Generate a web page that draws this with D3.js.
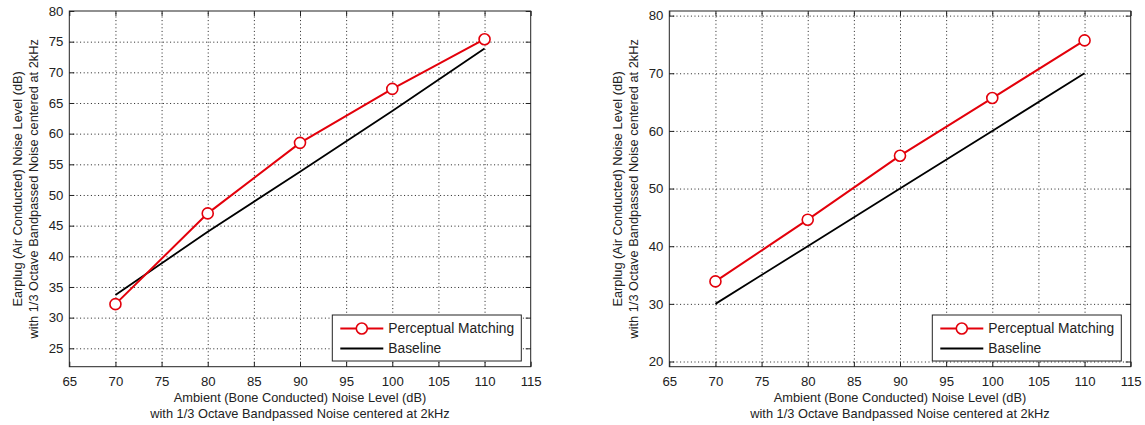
<!DOCTYPE html>
<html>
<head>
<meta charset="utf-8">
<script src="https://cdn.jsdelivr.net/npm/d3@7"></script>
<style>
  body { margin: 0; background: #fff; }
  text { font-family: "Liberation Sans", Arial, Helvetica, sans-serif; fill: #222; }
</style>
</head>
<body>
<div id="my_dataviz"></div>
<script>
// ---- data ----
const levels = [70, 80, 90, 100, 110];

// left panel
const leftPerceptual = [32.2, 47.0, 58.5, 67.3, 75.4];
const leftBaseline   = [33.7, 44.0, 53.8, 63.7, 73.9];
const leftYTicks = [25, 30, 35, 40, 45, 50, 55, 60, 65, 70, 75, 80];

// right panel
const rightPerceptual = [33.9, 44.6, 55.7, 65.7, 75.7];
const rightBaseline   = [30, 40, 50, 60, 70];
const rightYTicks = [20, 30, 40, 50, 60, 70, 80];

const xTicks = [65, 70, 75, 80, 85, 90, 95, 100, 105, 110, 115];
const seriesNames = ["Perceptual Matching", "Baseline"];

const xLabel = ["Ambient (Bone Conducted) Noise Level (dB)",
                "with 1/3 Octave Bandpassed Noise centered at 2kHz"];
const yLabel = ["Earplug (Air Conducted) Noise Level (dB)",
                "with 1/3 Octave Bandpassed Noise centered at 2kHz"];

const W = 1145, H = 425;
const svg = d3.select("#my_dataviz").append("svg")
    .attr("width", W).attr("height", H);
svg.append("rect").attr("width", W).attr("height", H).attr("fill", "#fff");

const red = "#e3000b";

function panel(left, yDomain, yTicks, perceptual, baseline) {
  const top = 11, width = 461.4, height = 355.7;
  const g = svg.append("g").attr("transform", `translate(${left},${top})`);

  const x = d3.scaleLinear().domain([65, 115]).range([0, width]);
  const y = d3.scaleLinear().domain(yDomain).range([height, 0]);

  // dotted grid
  g.append("g").attr("class", "grid")
    .attr("transform", `translate(0,${height})`)
    .call(d3.axisBottom(x).tickValues(xTicks.filter(t => t > 65 && t < 115))
      .tickSize(-height).tickFormat(""))
    .call(a => a.select(".domain").remove());
  g.append("g").attr("class", "grid")
    .call(d3.axisLeft(y).tickValues(yTicks.filter(t => t > yDomain[0] && t < yDomain[1]))
      .tickSize(-width).tickFormat(""))
    .call(a => a.select(".domain").remove());
  g.selectAll(".grid line")
    .attr("stroke", "#222").attr("stroke-width", 1)
    .attr("stroke-dasharray", "1,2.6");

  // inward ticks on all four sides
  const tick = 5;
  g.append("g").attr("transform", `translate(0,${height})`)
    .call(d3.axisBottom(x).tickValues(xTicks).tickSize(-tick).tickPadding(10));
  g.append("g")
    .call(d3.axisTop(x).tickValues(xTicks).tickSize(-tick).tickFormat(""));
  g.append("g")
    .call(d3.axisLeft(y).tickValues(yTicks).tickSize(-tick).tickPadding(6));
  g.append("g").attr("transform", `translate(${width},0)`)
    .call(d3.axisRight(y).tickValues(yTicks).tickSize(-tick).tickFormat(""));
  g.selectAll(".domain").remove();
  g.selectAll(".tick line").filter(function() { return !this.closest(".grid"); })
    .attr("stroke", "#222");
  g.selectAll(".tick text").attr("font-size", 13.2).attr("fill", "#222");

  // box
  g.append("rect").attr("width", width).attr("height", height)
    .attr("fill", "none").attr("stroke", "#222").attr("stroke-width", 1);

  // baseline
  const line = d3.line().x((d, i) => x(levels[i])).y(d => y(d));
  g.append("path").datum(baseline)
    .attr("d", line).attr("fill", "none")
    .attr("stroke", "#000").attr("stroke-width", 1.8);

  // perceptual matching
  g.append("path").datum(perceptual)
    .attr("d", line).attr("fill", "none")
    .attr("stroke", red).attr("stroke-width", 2);
  g.selectAll(".pt").data(perceptual).enter().append("circle")
    .attr("class", "pt")
    .attr("cx", (d, i) => x(levels[i])).attr("cy", d => y(d))
    .attr("r", 5.5).attr("fill", "#fff")
    .attr("stroke", red).attr("stroke-width", 1.6);

  // legend
  const lg = g.append("g").attr("transform", `translate(263,${304})`);
  lg.append("rect").attr("width", 189).attr("height", 46)
    .attr("fill", "#fff").attr("stroke", "#222").attr("stroke-width", 1);
  const rows = lg.selectAll(".row").data(seriesNames).enter().append("g")
    .attr("transform", (d, i) => `translate(0,${13.5 + i * 20})`);
  rows.append("line").attr("x1", 8).attr("x2", 51)
    .attr("stroke", (d, i) => i === 0 ? red : "#000")
    .attr("stroke-width", (d, i) => i === 0 ? 2 : 1.8);
  rows.filter((d, i) => i === 0).append("circle")
    .attr("cx", 29.5).attr("r", 5.5).attr("fill", "#fff")
    .attr("stroke", red).attr("stroke-width", 1.6);
  rows.append("text").attr("x", 56).attr("dy", "0.35em")
    .attr("font-size", 13.8).text(d => d);

  // axis titles
  g.append("text").attr("text-anchor", "middle").attr("font-size", 12.8)
    .attr("transform", `translate(${width / 2},${height + 35})`)
    .selectAll("tspan").data(xLabel).enter().append("tspan")
    .attr("x", 0).attr("dy", (d, i) => i === 0 ? 0 : 16).text(d => d);
  g.append("text").attr("text-anchor", "middle").attr("font-size", 12.8)
    .attr("transform", `translate(-47,${height / 2}) rotate(-90)`)
    .selectAll("tspan").data(yLabel).enter().append("tspan")
    .attr("x", 0).attr("dy", (d, i) => i === 0 ? 0 : 15.5).text(d => d);
}

panel(69.3, [22, 80], leftYTicks, leftPerceptual, leftBaseline);
panel(669.3, [19.1, 80.8], rightYTicks, rightPerceptual, rightBaseline);
</script>
</body>
</html>
